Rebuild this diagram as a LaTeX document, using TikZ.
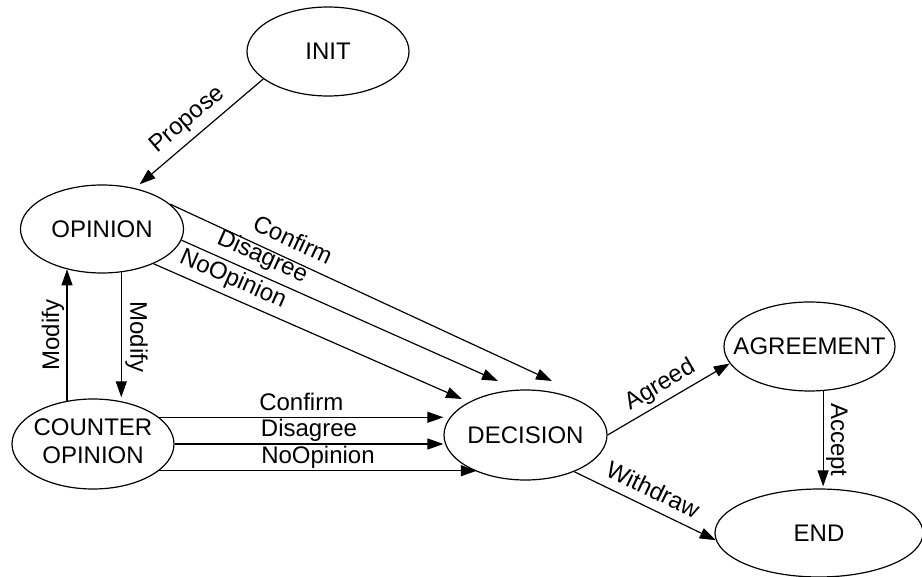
\documentclass[tikz,border=0pt]{standalone}
\usepackage{fontspec}
\setmainfont{Liberation Sans}
\usetikzlibrary{arrows.meta,shapes,positioning,calc}

\newcommand{\stname}[1]{\makebox[0pt]{#1}}

\begin{document}
\begin{tikzpicture}
[x=0.5pt,y=-0.5pt,
font=\fontsize{12}{14}\selectfont,
line width=0.6pt,
arr/.style={-{Triangle[length=8pt,width=5.5pt]}},
state/.style 2 args={ellipse,draw,inner sep=0pt,minimum width=#1pt,minimum height=#2pt},
lbl/.style={sloped,anchor=base,inner sep=0pt,yshift=#1},
lbl/.default=5.5pt,
hlbl/.style={anchor=base,inner sep=0pt,yshift=3.5pt}]
\useasboundingbox (0,0) rectangle (922,577);
%%%%%%%%%%

%% states
\node[state={81}{44.5}] (init) at (328,51.5) {\stname{INIT}};
\node[state={81.5}{44}] (opinion) at (102,229) {\stname{OPINION}};
\node[state={81}{45}] (counter) at (93,444)
  {\stname{\begin{tabular}{@{}c@{}}COUNTER\\OPINION\end{tabular}}};
\node[state={81.5}{45}] (decision) at (525.5,435) {\stname{DECISION}};
\node[state={85.5}{44.5}] (agreement) at (809.5,346.5) {\stname{AGREEMENT}};
\node[state={104}{44}] (finish) at (819,533) {\stname{END}};

%% free ends above decision
\coordinate (dconf) at ([shift={(26.5,-54)}]decision.center);
\coordinate (ddis) at ([shift={(-27.5,-54)}]decision.center);
\coordinate (dnoop) at ([shift={(-63.5,-36)}]decision.center);

%% propose
\draw[arr,shorten >=3pt] (init.203) -- node[lbl=6pt] {Propose} (opinion.51);

%% opinion -> decision
\draw[arr] (opinion.20) -- node[lbl,pos=.30] {Confirm} (dconf);
\draw[arr] (opinion.352) -- node[lbl,pos=.233] {Disagree} (ddis);
\draw[arr] (opinion.326) -- node[lbl,pos=.235] {NoOpinion} (dnoop);

%% modify
\draw[arr] (counter.121) -- node[lbl=4pt] {Modify} (counter.121 |- opinion.229);
\draw[arr,shorten >=2pt] (opinion.294) -- node[lbl=4.5pt] {Modify} (opinion.294 |- counter.56);

%% counter opinion -> decision
\draw[arr] (counter.22) -- node[hlbl] {Confirm} (counter.22 -| decision.west);
\draw[arr] (counter.east) -- node[hlbl] {Disagree} (counter.east -| decision.west);
\draw[arr] (counter.338) -- node[hlbl] {NoOpinion} (counter.338 -| decision.217);

%% decision -> end
\draw[arr] (decision.east) -- node[lbl=5pt] {Agreed} (agreement.192);
\draw[arr] (decision.323) -- node[lbl=5pt] {Withdraw} (finish.184);
\draw[arr,shorten >=1pt] (agreement.287) -- node[lbl=4pt] {Accept} (agreement.287 |- finish.north);
\end{tikzpicture}
\end{document}
